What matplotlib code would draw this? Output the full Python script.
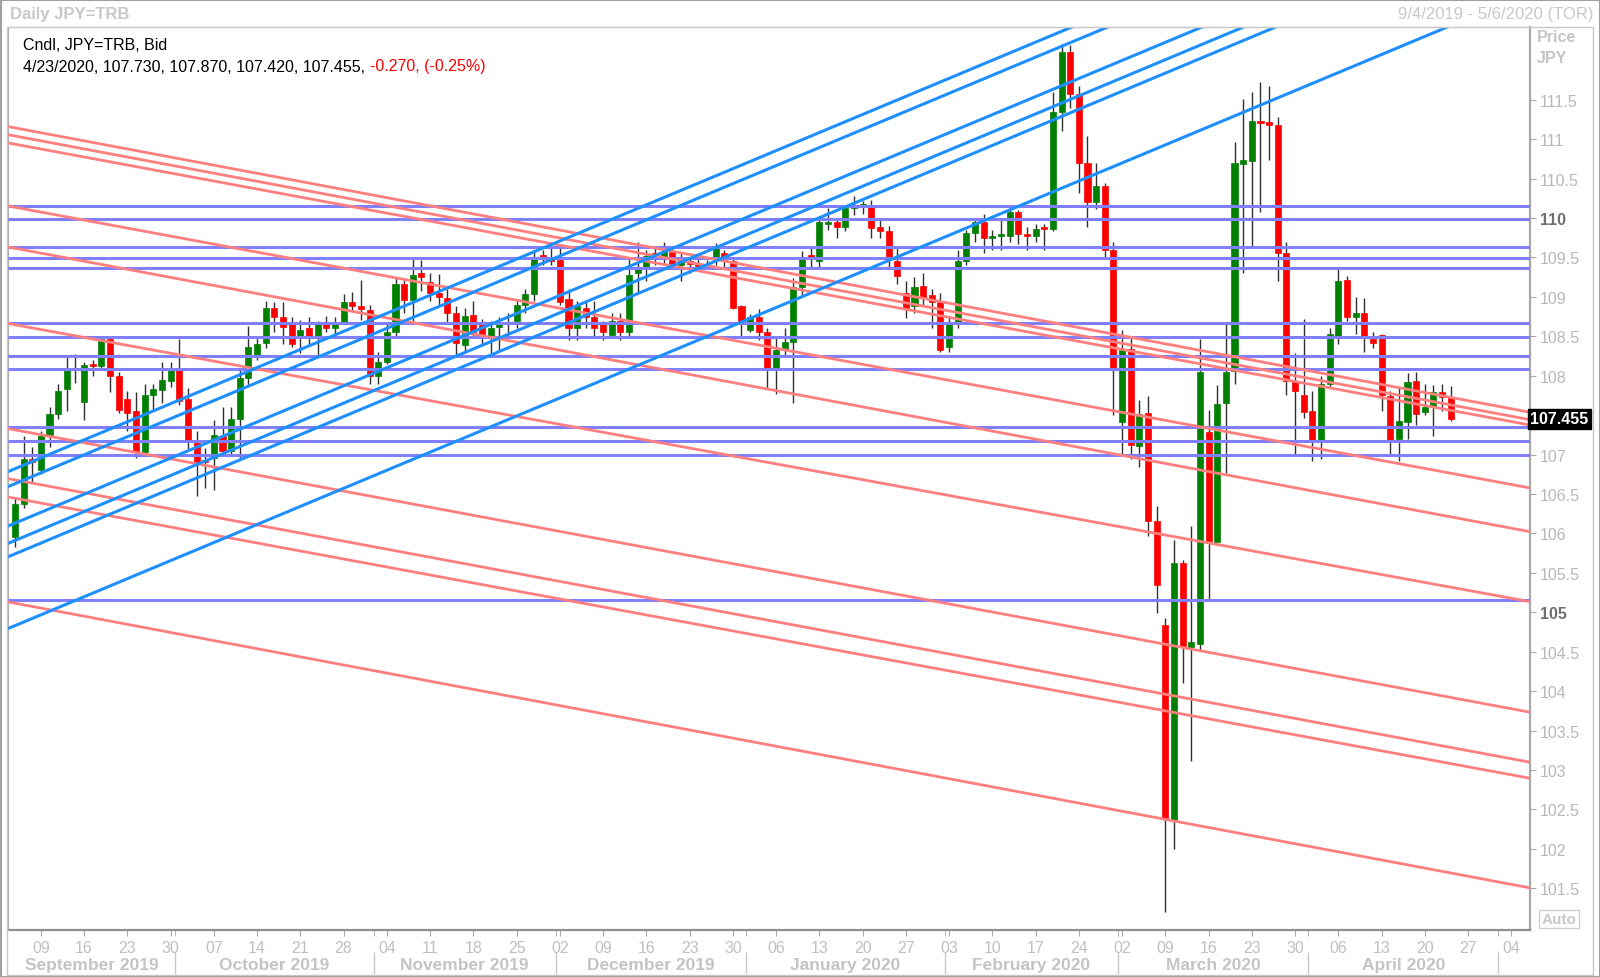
import numpy as np
import pandas as pd
import matplotlib
matplotlib.use('Agg')
import matplotlib.pyplot as plt
import matplotlib.transforms as mtransforms
from matplotlib.patches import Rectangle

plt.rcParams['font.family'] = ['Liberation Sans', 'DejaVu Sans']

# daily candles, 9/4/2019 - 4/23/2020 (weekdays)
dates = pd.bdate_range('2019-09-04', '2020-04-23')
opens = [105.95, 106.37, 106.95, 106.81, 107.24, 107.52, 107.83, 108.07, 107.67, 108.14,
         108.12, 108.46, 108.00, 107.70, 107.55, 107.03, 107.75, 107.82, 107.93, 108.07,
         107.71, 107.15, 106.92, 106.96, 107.24, 107.05, 107.45, 107.97, 108.25, 108.41,
         108.86, 108.75, 108.65, 108.50, 108.60, 108.50, 108.65, 108.60, 108.67, 108.93,
         108.88, 108.83, 107.99, 108.18, 108.56, 109.16, 108.96, 109.30, 109.19, 109.05,
         108.99, 108.80, 108.39, 108.77, 108.64, 108.50, 108.62, 108.65, 108.69, 108.90,
         109.03, 109.53, 109.50, 109.47, 108.97, 108.61, 108.86, 108.75, 108.65, 108.52,
         108.70, 108.55, 109.30, 109.35, 109.55, 109.50, 109.57, 109.41, 109.45, 109.43,
         109.39, 109.47, 109.55, 109.46, 108.88, 108.58, 108.75, 108.56, 108.10, 108.33,
         108.43, 109.13, 109.52, 109.45, 109.93, 109.95, 109.89, 110.13, 110.15, 110.17,
         109.88, 109.83, 109.45, 109.05, 108.88, 109.14, 109.02, 108.93, 108.37, 108.65,
         109.45, 109.81, 109.95, 109.74, 109.77, 109.77, 110.08, 109.80, 109.77, 109.89,
         109.86, 111.35, 112.10, 111.57, 110.70, 110.20, 110.40, 109.60, 107.41, 108.34,
         107.11, 107.53, 106.16, 104.84, 102.36, 105.63, 104.56, 104.60, 107.29, 105.89,
         107.65, 108.06, 110.69, 110.72, 111.23, 111.22, 111.18, 109.56, 107.93, 107.75,
         107.55, 107.19, 107.89, 108.50, 109.22, 108.75, 108.80, 108.46, 108.51, 107.74,
         107.20, 107.41, 107.93, 107.54, 107.61, 107.79, 107.73]
highs = [106.46, 107.23, 107.10, 107.30, 107.60, 107.90, 108.26, 108.27, 108.18, 108.20,
         108.48, 108.48, 108.05, 107.80, 107.79, 107.89, 107.90, 108.18, 108.18, 108.46,
         107.85, 107.30, 107.08, 107.44, 107.60, 107.60, 108.10, 108.63, 108.50, 108.95,
         108.94, 108.93, 108.74, 108.71, 108.74, 108.70, 108.76, 108.75, 109.04, 109.06,
         109.22, 108.90, 108.30, 108.65, 109.25, 109.22, 109.49, 109.47, 109.30, 109.29,
         109.10, 108.88, 108.86, 108.95, 108.72, 108.70, 108.75, 108.80, 108.95, 109.10,
         109.60, 109.60, 109.70, 109.67, 109.10, 108.95, 108.95, 108.95, 108.70, 108.80,
         108.80, 109.50, 109.70, 109.60, 109.65, 109.70, 109.65, 109.55, 109.50, 109.50,
         109.47, 109.68, 109.60, 109.50, 108.90, 108.78, 108.85, 108.60, 108.50, 108.60,
         109.24, 109.58, 109.65, 109.98, 110.13, 110.00, 110.17, 110.28, 110.22, 110.23,
         110.00, 109.90, 109.65, 109.20, 109.25, 109.30, 109.10, 109.05, 108.75, 109.60,
         109.85, 110.00, 110.05, 109.85, 110.00, 110.14, 110.10, 109.88, 109.93, 109.93,
         111.60, 112.21, 112.20, 111.68, 111.04, 110.70, 110.45, 109.70, 108.58, 108.50,
         107.69, 107.74, 106.35, 104.93, 105.92, 105.66, 106.09, 108.46, 107.56, 107.88,
         108.65, 110.97, 111.51, 111.60, 111.72, 111.68, 111.28, 109.69, 108.29, 108.72,
         107.80, 108.00, 108.60, 109.38, 109.26, 109.00, 108.98, 108.55, 108.53, 107.80,
         107.85, 108.03, 108.05, 107.90, 107.88, 107.90, 107.87]
lows = [105.83, 106.32, 106.64, 106.75, 107.10, 107.45, 107.55, 107.91, 107.44, 108.00,
        108.08, 107.79, 107.53, 107.30, 106.96, 107.00, 107.55, 107.66, 107.86, 107.63,
        107.05, 106.48, 106.57, 106.55, 107.00, 106.98, 106.95, 107.88, 108.20, 108.35,
        108.56, 108.40, 108.37, 108.29, 108.40, 108.25, 108.55, 108.52, 108.67, 108.82,
        108.71, 107.89, 107.90, 108.15, 108.50, 108.80, 108.70, 109.07, 108.95, 108.88,
        108.66, 108.25, 108.30, 108.50, 108.40, 108.25, 108.30, 108.50, 108.60, 108.80,
        108.95, 109.40, 109.40, 108.90, 108.45, 108.45, 108.60, 108.50, 108.45, 108.50,
        108.45, 108.50, 109.05, 109.20, 109.40, 109.40, 109.35, 109.20, 109.30, 109.35,
        109.35, 109.40, 109.35, 108.85, 108.50, 108.55, 108.45, 107.85, 107.77, 108.25,
        107.66, 109.00, 109.35, 109.38, 109.85, 109.75, 109.83, 110.04, 110.05, 109.75,
        109.75, 109.35, 109.16, 108.73, 108.80, 108.90, 108.60, 108.30, 108.30, 108.60,
        109.40, 109.70, 109.55, 109.60, 109.60, 109.70, 109.67, 109.60, 109.70, 109.60,
        109.83, 111.10, 111.40, 110.32, 109.88, 110.12, 109.50, 107.50, 107.01, 106.95,
        106.84, 105.97, 104.99, 101.20, 102.00, 104.10, 103.11, 104.52, 105.16, 105.89,
        106.76, 107.89, 109.30, 109.64, 110.07, 110.74, 109.20, 107.76, 107.00, 107.46,
        106.92, 106.95, 107.84, 108.40, 108.69, 108.53, 108.30, 108.35, 107.55, 107.00,
        106.92, 107.20, 107.37, 107.50, 107.24, 107.55, 107.42]
closes = [106.37, 106.94, 106.91, 107.23, 107.52, 107.81, 108.07, 108.09, 108.14, 108.12,
          108.46, 108.00, 107.56, 107.53, 107.03, 107.75, 107.83, 107.94, 108.07, 107.68,
          107.19, 106.90, 106.91, 107.25, 107.05, 107.45, 107.97, 108.37, 108.40, 108.86,
          108.75, 108.62, 108.40, 108.58, 108.50, 108.65, 108.61, 108.65, 108.93, 108.88,
          108.84, 107.99, 108.18, 108.56, 109.16, 108.96, 109.28, 109.25, 109.05, 109.00,
          108.80, 108.42, 108.76, 108.56, 108.50, 108.60, 108.65, 108.68, 108.90, 109.03,
          109.51, 109.50, 109.45, 108.94, 108.61, 108.88, 108.75, 108.61, 108.55, 108.70,
          108.55, 109.28, 109.35, 109.52, 109.50, 109.58, 109.41, 109.45, 109.42, 109.39,
          109.42, 109.62, 109.45, 108.86, 108.67, 108.75, 108.55, 108.10, 108.33, 108.43,
          109.12, 109.51, 109.50, 109.95, 109.95, 109.89, 110.13, 110.15, 110.17, 109.87,
          109.83, 109.49, 109.27, 108.86, 109.13, 108.99, 108.94, 108.33, 108.65, 109.45,
          109.81, 109.95, 109.74, 109.77, 109.79, 110.07, 109.80, 109.77, 109.86, 109.86,
          111.34, 112.10, 111.57, 110.70, 110.20, 110.40, 109.60, 108.09, 108.32, 107.12,
          107.51, 106.16, 105.35, 102.39, 105.62, 104.57, 104.62, 108.05, 105.90, 107.64,
          108.05, 110.70, 110.73, 111.23, 111.20, 111.18, 109.56, 107.93, 107.80, 107.54,
          107.19, 107.89, 108.53, 109.20, 108.74, 108.80, 108.50, 108.42, 107.76, 107.17,
          107.43, 107.92, 107.51, 107.60, 107.79, 107.73, 107.455]

# drawn studies
h_levels = [110.156, 109.987, 109.63, 109.49, 109.37, 108.67, 108.49, 108.25, 108.09,
            107.35, 107.17, 107.0, 105.16]
# trend lines: price on 9/4/2019 and on 4/23/2020
red_start = [111.143, 111.040, 110.936, 110.136, 109.616, 108.646, 107.313, 106.679, 106.446, 105.115]
red_end = [107.725, 107.630, 107.561, 106.763, 106.210, 105.318, 103.920, 103.286, 103.081, 101.694]
blue_start = [106.82, 106.63, 106.13, 105.91, 105.74, 104.83]
blue_end = [114.43, 114.24, 113.74, 113.52, 113.35, 112.44]

W, H = 1600, 978
fig = plt.figure(figsize=(16, 9.78), dpi=100)
ax = fig.add_axes([8 / W, 1 - 931 / H, (1530 - 8) / W, (931 - 28) / H])

x = np.arange(len(dates))
o = np.array(opens)
c = np.array(closes)
up = c >= o
cols = np.where(up, '#008000', '#ff0000')
bottom = np.minimum(o, c)
height = np.maximum(np.abs(c - o), 0.025)

ax.vlines(x, lows, highs, color='#303030', lw=1, zorder=2)
ax.bar(x, height, 0.7, bottom=bottom, color=cols, edgecolor=cols, lw=0.5, zorder=2.5)

xmin, xmax = -0.8, 175.16
n_last = len(dates) - 1
for lv in h_levels:
    ax.axhline(lv, color='#8080ff', lw=2.2, zorder=3)
for s, e in zip(red_start, red_end):
    k = (e - s) / n_last
    ax.plot([xmin, xmax], [s + k * xmin, s + k * xmax], color='#ff7f7f', lw=2.0, zorder=3.1)
for s, e in zip(blue_start, blue_end):
    k = (e - s) / n_last
    ax.plot([xmin, xmax], [s + k * xmin, s + k * xmax], color='#1e8fff', lw=2.2, zorder=3.2)

ax.set_xlim(xmin, xmax)
ax.set_ylim(100.971, 112.422)

# axes look
for side in ['left', 'top', 'right']:
    ax.spines[side].set_color('#a8a8a8')
ax.spines['bottom'].set_color('#909090')
ax.spines['bottom'].set_linewidth(1.6)
ax.spines['right'].set_linewidth(1.6)

# y axis on the right; the last-price box hides the 107.5 label
ax.yaxis.tick_right()
yt = np.arange(101.5, 112.0, 0.5)
ax.set_yticks(yt)
ax.set_yticklabels(['' if abs(v - closes[-1]) < 0.2 else '%g' % v for v in yt])
ax.tick_params(axis='y', colors='#a8a8a8', length=4, pad=3, labelsize=11.5, labelcolor='#b8b8b8')
for lab, v in zip(ax.get_yticklabels(), yt):
    if v % 5 == 0:
        lab.set_fontweight('bold')
        lab.set_color('#707070')

# x axis: mondays + month boundaries
axis_days = pd.bdate_range('2019-09-04', '2020-05-06')
mondays = [i for i, d in enumerate(axis_days) if d.weekday() == 0]
ax.set_xticks(mondays)
ax.set_xticklabels([axis_days[i].strftime('%d') for i in mondays])
ax.tick_params(axis='x', colors='#a8a8a8', length=4, pad=3, labelsize=11.5, labelcolor='#c0c0c0')
bounds = [i - 0.5 for i in range(1, len(axis_days)) if axis_days[i].month != axis_days[i - 1].month]
ax.set_xticks(bounds, minor=True)
ax.tick_params(axis='x', which='minor', length=4, color='#a8a8a8')

trans = mtransforms.blended_transform_factory(ax.transData, ax.transAxes)
ax.vlines(bounds, -0.0487, -0.0244, color='#c8c8c8', lw=1, transform=trans, clip_on=False)
edges = [xmin] + bounds + [xmax]
for i in range(len(edges) - 1):
    a, b = edges[i], edges[i + 1]
    if b - a < 10:
        continue
    d = axis_days[int(np.ceil(a))]
    ax.text((a + b) / 2, -0.0385, d.strftime('%B %Y'), transform=trans, ha='center', va='center',
            fontsize=12.5, fontweight='bold', color='#c4c4c4')

# last price label
ax.text(1.0, closes[-1], '%.3f' % closes[-1], transform=mtransforms.blended_transform_factory(ax.transAxes, ax.transData),
        ha='left', va='center', color='white', fontsize=11.5, fontweight='bold',
        bbox=dict(boxstyle='square,pad=0.15', fc='black', ec='black'), zorder=5, clip_on=False)

# header / legend text
fig.text(10 / W, 1 - 15 / H, 'Daily JPY=TRB', fontsize=12, fontweight='bold', color='#c8c8c8', va='center')
fig.text(1593 / W, 1 - 15 / H, '9/4/2019 - 5/6/2020 (TOR)', fontsize=12, color='#c8c8c8', va='center', ha='right')
fig.text(1537 / W, 1 - 38 / H, 'Price', fontsize=11.5, fontweight='bold', color='#c4c4c4', va='center')
fig.text(1537 / W, 1 - 59 / H, 'JPY', fontsize=11.5, fontweight='bold', color='#c4c4c4', va='center')
fig.text(23 / W, 1 - 46 / H, 'Cndl, JPY=TRB, Bid', fontsize=11.5, color='black', va='center')
t1 = fig.text(23 / W, 1 - 67 / H, '4/23/2020, 107.730, 107.870, 107.420, 107.455, ', fontsize=11.5,
              color='black', va='center')
fig.canvas.draw()
bb = t1.get_window_extent().transformed(fig.transFigure.inverted())
fig.text(bb.x1, 1 - 67 / H, '-0.270, (-0.25%)', fontsize=11.5, color='#ff0000', va='center')
fig.text(1559 / W, 1 - 920 / H, 'Auto', fontsize=11, fontweight='bold', color='#c8c8c8', va='center', ha='center',
         bbox=dict(boxstyle='square,pad=0.15', fc='white', ec='#d0d0d0'))

# frames
fig.patches.append(Rectangle((7 / W, 2 / H), 1586 / W, 1 - 30 / H, transform=fig.transFigure,
                             fill=False, ec='#c8c8c8', lw=1))
fig.patches.append(Rectangle((0.5 / W, 0.5 / H), 1 - 1 / W, 1 - 1 / H, transform=fig.transFigure,
                             fill=False, ec='#a0a0a0', lw=1.5))

fig.savefig('out.png', dpi=100)
